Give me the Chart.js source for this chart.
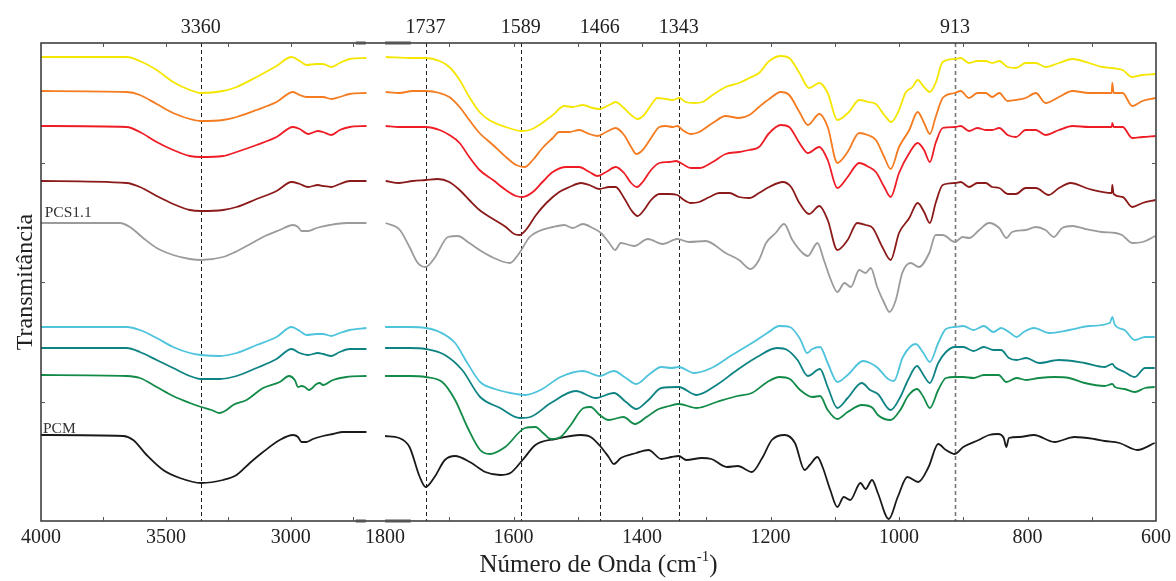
<!DOCTYPE html>
<html>
<head>
<meta charset="utf-8">
<script src="https://cdn.jsdelivr.net/npm/chart.js@4.4.1/dist/chart.umd.min.js"></script>
<style>
html, body { margin: 0; padding: 0; background: #fff; }
</style>
</head>
<body>
<canvas id="ftir" width="1176" height="581"></canvas>
<script>
// ESPECTROS FTIR: pares [número de onda (cm-1), transmitância (u.a., deslocada)]
const amarelo = [[4000,464],[3657,464],[3604,460],[3537,451],[3471,439],[3404,431],[3359,428],[3271,430],[3217,434],[3137,444],[3057,455],[2997,464],[2964,460],[2937,456],[2897,457],[2871,457],[2837,454],[2804,458],[2764,462],[2697,463],
  [1799,464],[1757,463],[1737,463],[1715,460],[1700,454],[1684,441],[1669,424],[1653,409],[1638,401],[1612,394],[1588,390],[1575,391],[1560,396],[1539,406],[1521,415],[1508,414],[1492,416],[1477,413],[1467,412],[1451,416],[1441,419],[1430,414],[1417,406],[1407,402],[1397,406],[1386,416],[1376,423],[1363,422],[1352,421],[1342,423],[1332,419],[1319,418],[1306,419],[1290,426],[1270,434],[1249,438],[1233,443],[1218,448],
  [1202,460],[1184,465],[1171,463],[1155,448],[1140,433],[1124,438],[1111,428],[1096,401],[1078,409],[1062,421],[1047,419],[1036,417],[1023,406],[1012,399],[1000,411],[990,428],[979,434],[971,441],[961,434],[952,429],[943,438],[932,459],[913,462],[904,463],[891,458],[878,460],[865,460],[855,458],[844,460],[831,454],[818,453],[803,458],[787,458],[772,454],[751,458],[730,462],[704,458],[684,454],[668,453],[652,451],[637,444],[621,446],[601,447]];

const laranja = [[4000,430],[3657,429],[3604,426],[3537,417],[3471,408],[3404,402],[3359,400],[3271,401],[3217,404],[3137,411],[3057,419],[2991,429],[2964,426],[2937,424],[2897,424],[2871,424],[2837,422],[2804,424],[2764,427],[2697,428],
  [1799,429],[1778,428],[1757,430],[1737,430],[1715,428],[1700,424],[1684,414],[1669,401],[1653,388],[1632,376],[1612,364],[1596,356],[1583,354],[1570,361],[1555,373],[1539,383],[1529,389],[1513,389],[1498,391],[1482,387],[1469,385],[1456,389],[1441,393],[1428,386],[1417,374],[1409,367],[1399,371],[1386,383],[1373,394],[1363,395],[1352,394],[1345,395],[1337,391],[1324,387],[1311,389],[1290,398],[1270,405],[1249,403],[1233,406],[1218,414],
  [1202,422],[1184,429],[1171,426],[1155,409],[1142,396],[1124,407],[1111,394],[1096,358],[1080,369],[1062,388],[1049,386],[1036,381],[1023,364],[1013,352],[1000,374],[984,391],[971,409],[961,398],[952,387],[943,404],[932,423],[913,428],[904,430],[891,423],[878,428],[865,428],[855,424],[844,428],[831,420],[818,421],[803,423],[787,428],[772,418],[751,424],[730,430],[704,428],[669,428],[668,438],[666,428],[652,428],[637,415],[621,420],[601,423]];

const vermelho = [[4000,395],[3657,394],[3604,389],[3537,379],[3471,371],[3404,365],[3359,364],[3271,365],[3217,369],[3137,376],[3057,384],[2991,394],[2964,392],[2931,387],[2891,390],[2871,389],[2837,386],[2804,391],[2764,394],[2697,395],
  [1799,395],[1778,394],[1757,394],[1737,394],[1715,391],[1700,386],[1684,378],[1669,364],[1653,351],[1632,341],[1612,331],[1596,325],[1586,324],[1570,329],[1555,339],[1539,349],[1518,354],[1498,354],[1482,349],[1469,345],[1456,349],[1441,354],[1428,348],[1417,338],[1408,334],[1399,339],[1386,351],[1373,358],[1358,359],[1347,360],[1337,357],[1324,353],[1311,353],[1290,359],[1270,367],[1249,369],[1233,371],[1218,374],
  [1202,388],[1184,396],[1171,394],[1155,378],[1142,368],[1124,374],[1111,361],[1096,333],[1080,344],[1062,358],[1047,354],[1036,349],[1023,334],[1013,324],[1000,348],[984,368],[971,378],[961,371],[952,359],[943,378],[932,393],[913,394],[904,395],[891,390],[878,393],[865,391],[855,391],[844,393],[831,386],[818,384],[803,391],[787,391],[772,386],[751,391],[730,395],[704,394],[669,394],[668,398],[666,394],[652,394],[637,383],[621,384],[601,385]];

const vinho = [[4000,340],[3657,338],[3604,334],[3537,325],[3471,317],[3404,311],[3359,310],[3271,311],[3217,314],[3137,322],[3057,330],[2997,339],[2964,337],[2931,334],[2891,336],[2871,335],[2837,334],[2804,337],[2764,340],[2697,340],
  [1799,340],[1778,338],[1757,340],[1737,341],[1718,342],[1700,339],[1684,331],[1669,321],[1653,311],[1632,302],[1612,294],[1599,287],[1591,286],[1581,291],[1565,306],[1549,318],[1529,329],[1513,334],[1495,338],[1482,336],[1467,332],[1451,334],[1441,334],[1428,323],[1417,311],[1407,305],[1397,311],[1386,321],[1373,327],[1358,327],[1345,326],[1337,322],[1324,318],[1311,319],[1295,324],[1280,328],[1264,328],[1249,324],[1233,323],[1218,328],
  [1202,334],[1181,339],[1168,334],[1155,318],[1140,307],[1124,315],[1111,301],[1096,271],[1080,281],[1065,298],[1052,296],[1041,293],[1026,274],[1013,261],[1000,288],[984,303],[971,318],[961,309],[952,298],[943,318],[932,336],[913,338],[904,339],[891,334],[878,338],[865,338],[855,334],[844,333],[831,327],[818,327],[803,333],[787,333],[767,326],[751,333],[733,338],[704,332],[669,328],[668,336],[666,327],[652,324],[637,314],[621,318],[601,321]];

const pcs11 = [[4000,298],[3684,298],[3644,294],[3591,283],[3537,273],[3471,266],[3404,262],[3359,261],[3271,264],[3231,268],[3177,275],[3111,284],[3044,291],[2991,296],[2971,294],[2957,290],[2931,290],[2897,293],[2844,296],[2777,298],[2697,298],
  [1799,298],[1777,291],[1762,274],[1749,258],[1737,254],[1723,263],[1702,284],[1687,285],[1669,278],[1648,269],[1627,262],[1606,258],[1591,268],[1575,284],[1560,290],[1539,294],[1521,296],[1508,293],[1492,297],[1477,293],[1464,288],[1451,278],[1442,271],[1433,278],[1412,275],[1391,282],[1368,277],[1345,282],[1327,279],[1301,280],[1270,268],[1249,261],[1231,252],[1218,261],[1207,278],
  [1192,288],[1179,297],[1166,281],[1150,268],[1142,265],[1127,278],[1117,261],[1106,241],[1096,229],[1085,238],[1075,234],[1062,251],[1052,248],[1044,253],[1034,234],[1023,218],[1015,209],[1005,221],[995,248],[982,258],[969,254],[953,268],[943,286],[932,286],[913,279],[901,284],[891,283],[875,291],[860,298],[844,293],[833,283],[824,289],[803,291],[787,294],[772,291],[759,284],[746,293],[730,295],[710,292],[684,289],[663,288],[653,286],[637,278],[621,279],[601,285]];

const ciano = [[4000,194],[3657,194],[3604,191],[3537,183],[3471,174],[3404,168],[3359,166],[3284,165],[3217,168],[3137,176],[3057,184],[2997,194],[2964,190],[2937,186],[2897,187],[2871,187],[2837,185],[2804,188],[2764,191],[2697,193],
  [1800,194],[1762,194],[1737,193],[1715,189],[1691,178],[1672,158],[1652,139],[1629,132],[1605,128],[1582,126],[1558,131],[1527,144],[1492,150],[1466,145],[1444,150],[1425,143],[1409,137],[1390,146],[1370,154],[1354,153],[1343,154],[1319,148],[1292,153],[1260,166],[1229,178],[1205,188],[1186,195],[1170,194],[1154,182],[1143,168],[1135,172],[1123,174],[1111,158],[1096,139],[1080,146],[1056,160],[1045,158],[1033,153],[1017,142],[1008,140],[994,164],[974,177],[962,168],[952,159],[939,178],[927,192],[913,194],[900,195],[884,191],[868,195],[853,189],[841,193],[829,189],[817,184],[806,189],[790,193],[766,188],[735,191],[704,195],[672,198],[668,204],[664,196],[649,191],[633,181],[617,184],[602,184]];

const verdeAzulado = [[4000,173],[3657,173],[3604,169],[3537,161],[3471,153],[3404,145],[3359,142],[3284,142],[3217,145],[3137,153],[3057,162],[2997,172],[2964,168],[2931,166],[2891,168],[2871,167],[2837,165],[2804,169],[2764,172],[2697,172],
  [1800,173],[1762,173],[1737,172],[1707,166],[1680,151],[1652,124],[1621,113],[1590,103],[1574,104],[1542,118],[1503,130],[1472,123],[1444,128],[1425,119],[1409,112],[1390,121],[1370,133],[1343,134],[1315,126],[1284,136],[1252,151],[1221,164],[1190,173],[1174,171],[1158,161],[1142,145],[1123,152],[1111,134],[1096,113],[1080,123],[1058,138],[1045,131],[1033,127],[1013,111],[998,124],[986,141],[972,155],[962,146],[952,138],[939,158],[927,169],[913,174],[900,174],[884,170],[868,174],[853,171],[841,171],[829,163],[817,161],[802,163],[782,158],[751,161],[711,158],[680,154],[668,157],[664,154],[649,149],[633,144],[617,153],[602,153]];

const verde = [[4000,146],[3657,145],[3604,143],[3537,134],[3471,125],[3404,118],[3359,114],[3317,111],[3287,108],[3257,111],[3231,116],[3177,121],[3111,133],[3044,139],[3007,145],[2984,141],[2971,134],[2957,135],[2944,134],[2927,131],[2897,137],[2884,138],[2871,136],[2831,141],[2777,144],[2697,145],
  [1800,145],[1762,145],[1737,144],[1711,139],[1691,121],[1672,94],[1652,71],[1637,67],[1613,74],[1582,93],[1566,94],[1554,88],[1542,82],[1527,84],[1511,96],[1491,113],[1480,114],[1466,106],[1452,101],[1429,104],[1411,97],[1393,104],[1374,112],[1358,115],[1343,117],[1315,113],[1284,119],[1252,125],[1229,128],[1205,139],[1186,144],[1170,142],[1154,131],[1135,124],[1123,125],[1111,111],[1096,102],[1080,109],[1058,116],[1041,113],[1033,106],[1013,101],[998,111],[986,125],[972,132],[962,124],[952,113],[939,131],[927,143],[913,144],[900,144],[884,143],[868,146],[845,146],[833,139],[817,143],[802,141],[782,143],[758,144],[735,143],[711,138],[680,135],[668,137],[664,134],[649,132],[633,129],[617,133],[602,134]];

const pcm = [[4000,86],[3671,85],[3631,81],[3577,66],[3511,51],[3444,43],[3359,38],[3271,41],[3217,46],[3164,58],[3111,69],[3044,81],[2991,86],[2971,84],[2957,79],[2937,79],[2911,82],[2871,85],[2831,87],[2791,89],[2697,89],
  [1800,85],[1778,83],[1762,74],[1746,44],[1737,34],[1723,44],[1707,61],[1691,65],[1668,59],[1644,49],[1621,46],[1605,48],[1586,61],[1566,76],[1535,82],[1495,86],[1480,84],[1464,74],[1452,64],[1444,57],[1433,63],[1409,68],[1390,71],[1370,62],[1354,64],[1343,65],[1331,61],[1307,63],[1292,62],[1268,54],[1251,55],[1229,49],[1213,63],[1198,81],[1178,86],[1162,78],[1147,51],[1139,56],[1127,64],[1119,54],[1107,31],[1096,14],[1086,24],[1076,21],[1060,38],[1052,32],[1042,41],[1033,28],[1016,2],[1002,24],[987,44],[970,39],[954,54],[939,77],[927,71],[913,67],[900,74],[876,81],[860,86],[846,87],[837,83],[833,74],[829,83],[813,84],[790,86],[758,79],[727,84],[696,82],[680,80],[657,78],[629,71],[602,78]];

const series = [amarelo, laranja, vermelho, vinho, pcs11, ciano, verdeAzulado, verde, pcm];
const nomes = ['S1', 'S2', 'S3', 'S4', 'PCS1.1', 'S6', 'S7', 'S8', 'PCM'];
const cores = ['#f5e600', '#f47b20', '#ee1c25', '#8b1a1a', '#9b9b9b', '#4dc3dc', '#0e8383', '#128a48', '#1a1a1a'];

const marcas = [4000, 3500, 3000, 1800, 1600, 1400, 1200, 1000, 800, 600];
const bandas = [3360, 1737, 1589, 1466, 1343, 913];
const marcasMenores = [3750, 3500, 3250, 3000, 2750, 1700, 1600, 1500, 1400, 1300, 1200, 1100, 1000, 900, 800, 700];
const rotulos = [['PCS1.1', 3985, 304], ['PCM', 3992, 88]];

// EIXO QUEBRADO: 4000-2700 comprimido à esquerda, 1800-600 à direita
function paraEixo(w) {
    return w <= 1800 ? w : 2335.6 - (4000 - w) * 0.3888;
}
function doEixo(u) {
    return u <= 1800 ? u : 4000 - (2335.6 - u) / 0.3888;
}

function montar(pares) {
    const pts = pares.map(p => ({ x: paraEixo(p[0]), y: p[1] }));
    pts.push({ x: 1815, y: null });
    pts.sort((a, b) => a.x - b.x);
    return pts;
}

const fonte = 'Liberation Serif, Times New Roman, serif';

const moldura = {
    id: 'moldura',
    beforeDatasetsDraw(chart) {
        const { ctx, chartArea: a, scales: { x } } = chart;
        ctx.save();
        bandas.forEach(w => {
            const px = Math.round(x.getPixelForValue(paraEixo(w))) + 0.5;
            ctx.beginPath();
            ctx.setLineDash([4, 3]);
            ctx.lineWidth = w === 913 ? 1.6 : 1;
            ctx.strokeStyle = w === 913 ? '#777' : '#222';
            ctx.moveTo(px, a.top);
            ctx.lineTo(px, a.bottom);
            ctx.stroke();
        });
        ctx.restore();
    },
    afterDraw(chart) {
        const { ctx, chartArea: a, scales: { x, y } } = chart;
        ctx.save();
        ctx.setLineDash([]);
        ctx.strokeStyle = '#333';
        ctx.lineWidth = 1.5;
        ctx.strokeRect(a.left, a.top, a.right - a.left, a.bottom - a.top);

        // marcas internas
        ctx.lineWidth = 1;
        ctx.strokeStyle = '#555';
        ctx.beginPath();
        marcasMenores.forEach(w => {
            const px = Math.round(x.getPixelForValue(paraEixo(w))) + 0.5;
            ctx.moveTo(px, a.bottom); ctx.lineTo(px, a.bottom - 4);
            ctx.moveTo(px, a.top); ctx.lineTo(px, a.top + 4);
        });
        [119.5, 239, 358.5].forEach(v => {
            const py = Math.round(y.getPixelForValue(v)) + 0.5;
            ctx.moveTo(a.left, py); ctx.lineTo(a.left + 4, py);
            ctx.moveTo(a.right, py); ctx.lineTo(a.right - 4, py);
        });
        ctx.stroke();

        // quebra do eixo
        ctx.lineWidth = 3;
        ctx.strokeStyle = '#555';
        ctx.beginPath();
        [[2740, 2700], [1800, 1760]].forEach(([w1, w2]) => {
            const p1 = x.getPixelForValue(paraEixo(w1)), p2 = x.getPixelForValue(paraEixo(w2));
            ctx.moveTo(p1, a.top); ctx.lineTo(p2, a.top);
            ctx.moveTo(p1, a.bottom); ctx.lineTo(p2, a.bottom);
        });
        ctx.stroke();

        // números das bandas
        ctx.fillStyle = '#222';
        ctx.font = '20px ' + fonte;
        ctx.textAlign = 'center';
        ctx.textBaseline = 'alphabetic';
        bandas.forEach(w => {
            ctx.fillText(String(w), x.getPixelForValue(paraEixo(w)), a.top - 10);
        });

        // nomes das amostras
        ctx.font = '15.5px ' + fonte;
        ctx.textAlign = 'left';
        ctx.fillStyle = '#333';
        rotulos.forEach(([t, w, v]) => {
            ctx.fillText(t, x.getPixelForValue(paraEixo(w)), y.getPixelForValue(v));
        });

        // título do eixo x com expoente
        const cx = (a.left + a.right) / 2, by = 572;
        ctx.font = '25px ' + fonte;
        const t1 = 'Número de Onda (cm', t3 = ')';
        const w1 = ctx.measureText(t1).width, w3 = ctx.measureText(t3).width;
        ctx.font = '15px ' + fonte;
        const w2 = ctx.measureText('-1').width;
        let sx = cx - (w1 + w2 + w3) / 2;
        ctx.fillStyle = '#222';
        ctx.font = '25px ' + fonte;
        ctx.fillText(t1, sx, by);
        ctx.font = '15px ' + fonte;
        ctx.fillText('-1', sx + w1, by - 11);
        ctx.font = '25px ' + fonte;
        ctx.fillText(t3, sx + w1 + w2, by);
        ctx.restore();
    }
};

new Chart(document.getElementById('ftir'), {
    type: 'line',
    data: {
        datasets: series.map((s, i) => ({
            label: nomes[i],
            data: montar(s),
            borderColor: cores[i],
            borderWidth: 1.8,
            pointRadius: 0,
            cubicInterpolationMode: 'monotone',
            spanGaps: false
        }))
    },
    options: {
        responsive: false,
        animation: false,
        layout: { padding: { top: 43, right: 17, left: 0, bottom: 0 } },
        plugins: {
            legend: { display: false },
            tooltip: { enabled: false }
        },
        scales: {
            x: {
                type: 'linear',
                reverse: true,
                min: 600,
                max: 2335.6,
                afterFit(scale) { scale.height = 60; },
                afterBuildTicks(scale) {
                    scale.ticks = marcas.map(w => ({ value: paraEixo(w) }));
                },
                ticks: {
                    autoSkip: false,
                    maxRotation: 0,
                    padding: 5,
                    color: '#222',
                    font: { family: fonte, size: 20 },
                    callback: v => String(Math.round(doEixo(v) / 100) * 100)
                },
                grid: { display: false, drawTicks: false },
                border: { display: false }
            },
            y: {
                min: 0,
                max: 478,
                afterFit(scale) { scale.width = 41; },
                ticks: { display: false },
                grid: { display: false, drawTicks: false },
                border: { display: false },
                title: {
                    display: true,
                    text: 'Transmitância',
                    color: '#222',
                    font: { family: fonte, size: 24 },
                    padding: { top: 11, bottom: 0 }
                }
            }
        }
    },
    plugins: [moldura]
});
</script>
</body>
</html>
